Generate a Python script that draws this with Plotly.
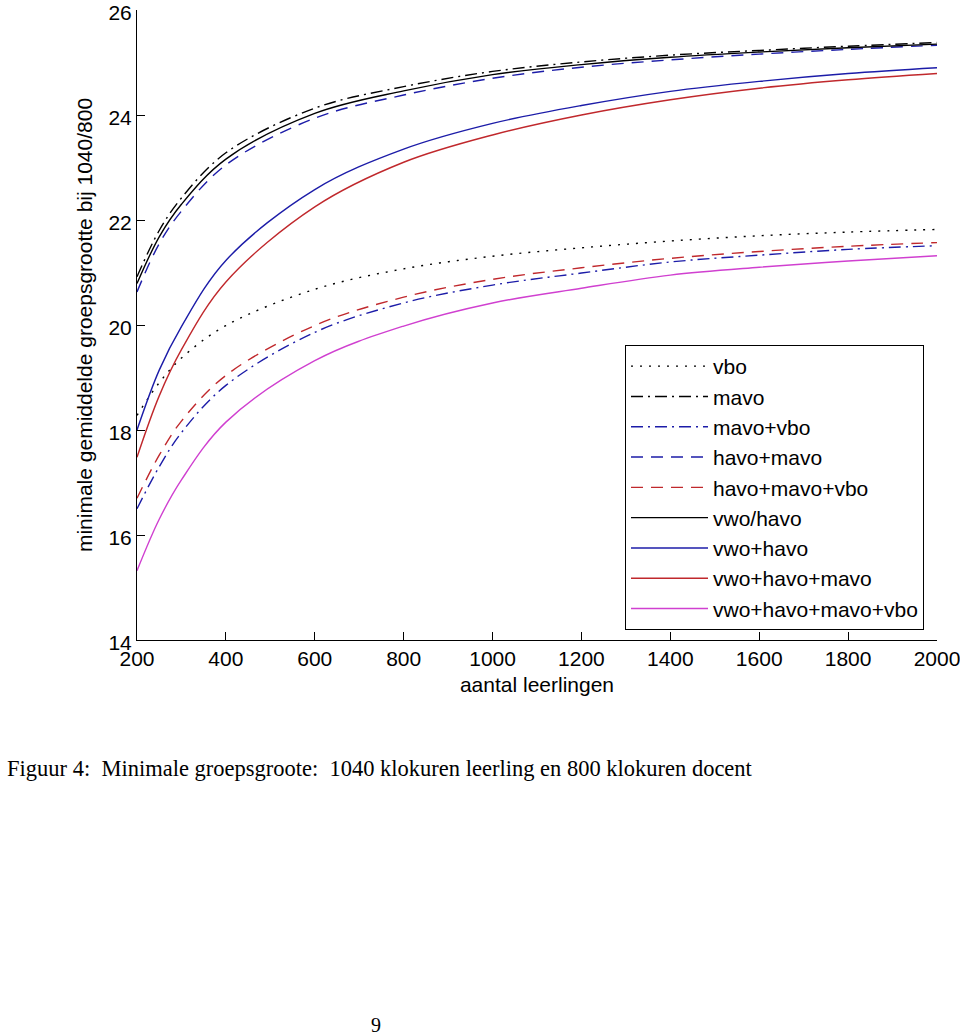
import plotly.graph_objects as go

# x-axis: aantal leerlingen
leerlingen = [200, 250, 300, 400, 600, 800, 1000, 1200, 1400, 1600, 1800, 2000]

# minimale gemiddelde groepsgrootte per schooltype
vbo = [18.28, 18.90, 19.37, 19.99, 20.68, 21.07, 21.31, 21.47, 21.60, 21.70, 21.77, 21.82]
mavo = [20.92, 21.80, 22.42, 23.28, 24.13, 24.54, 24.83, 25.01, 25.14, 25.23, 25.31, 25.38]
mavo_vbo = [16.50, 17.30, 17.95, 18.85, 19.86, 20.42, 20.76, 20.99, 21.20, 21.33, 21.44, 21.51]
havo_mavo = [20.63, 21.55, 22.17, 23.05, 23.94, 24.38, 24.70, 24.91, 25.05, 25.16, 25.25, 25.33]
havo_mavo_vbo = [16.70, 17.52, 18.17, 19.04, 19.99, 20.53, 20.87, 21.09, 21.27, 21.40, 21.50, 21.57]
vwo_havo = [20.79, 21.68, 22.30, 23.16, 24.03, 24.46, 24.77, 24.96, 25.10, 25.20, 25.28, 25.35]
vwo_plus_havo = [18.00, 19.14, 19.97, 21.23, 22.58, 23.35, 23.84, 24.18, 24.45, 24.64, 24.79, 24.90]
vwo_havo_mavo = [17.48, 18.65, 19.53, 20.82, 22.25, 23.10, 23.62, 24.00, 24.29, 24.51, 24.67, 24.79]
vwo_havo_mavo_vbo = [15.32, 16.30, 17.05, 18.15, 19.32, 19.98, 20.42, 20.70, 20.95, 21.10, 21.22, 21.32]

x_ticks = [200, 400, 600, 800, 1000, 1200, 1400, 1600, 1800, 2000]
y_ticks = [14, 16, 18, 20, 22, 24, 26]

BLACK = "#000000"
BLUE = "#1c1ca8"
RED = "#c0282c"
MAGENTA = "#d040d0"

DOT = "2px,7px"
DASH = "12px,8px"
DASHDOT = "12px,5px,2px,5px"

series = [
    ("vbo", vbo, BLACK, DOT),
    ("mavo", mavo, BLACK, DASHDOT),
    ("mavo+vbo", mavo_vbo, BLUE, DASHDOT),
    ("havo+mavo", havo_mavo, BLUE, DASH),
    ("havo+mavo+vbo", havo_mavo_vbo, RED, DASH),
    ("vwo/havo", vwo_havo, BLACK, "solid"),
    ("vwo+havo", vwo_plus_havo, BLUE, "solid"),
    ("vwo+havo+mavo", vwo_havo_mavo, RED, "solid"),
    ("vwo+havo+mavo+vbo", vwo_havo_mavo_vbo, MAGENTA, "solid"),
]

fig = go.Figure()
for name, ys, color, dash in series:
    fig.add_trace(go.Scatter(
        x=leerlingen, y=ys, name=name, mode="lines",
        line=dict(color=color, width=1.4, dash=dash, shape="spline", smoothing=1.0),
    ))

FONT = "Liberation Sans, Arial, Helvetica, sans-serif"
SERIF = "Liberation Serif, Times New Roman, serif"

PL, PT, PB = 137, 10, 640      # plot-area edges on the page
PW, PH = 800, 630              # plot-area size
W, H = 960, 1035

fig.update_layout(
    width=W, height=H,
    margin=dict(l=PL, r=W - PL - PW, t=PT, b=H - PT - PH, autoexpand=False),
    paper_bgcolor="white", plot_bgcolor="white",
    font=dict(family=FONT, size=21, color="black"),
    showlegend=True,
    legend=dict(
        x=(625 - PL) / PW, y=(PB - 630) / PH, xanchor="left", yanchor="bottom",
        bordercolor="black", borderwidth=1, bgcolor="white",
        font=dict(family=FONT, size=21, color="black"),
        itemwidth=77, tracegroupgap=0,
    ),
    xaxis=dict(
        range=[200, 2000], tickvals=x_ticks, ticktext=[str(v) for v in x_ticks],
        showline=True, linecolor="black", linewidth=1, mirror=False,
        ticks="inside", ticklen=8, tickcolor="black", showgrid=False, zeroline=False,
        ticklabeloverflow="allow", automargin=False,
        title=dict(text="aantal leerlingen", standoff=8, font=dict(size=21)),
        tickfont=dict(size=21),
    ),
    yaxis=dict(
        range=[14, 26], tickvals=y_ticks, ticktext=[str(v) for v in y_ticks],
        showline=True, linecolor="black", linewidth=1, mirror=False,
        ticks="inside", ticklen=8, tickcolor="black", showgrid=False, zeroline=False,
        ticklabeloverflow="allow", automargin=False, ticklabelshift=3,
        title=dict(text="minimale gemiddelde groepsgrootte bij 1040/800", standoff=10, font=dict(size=21)),
        tickfont=dict(size=21),
    ),
    annotations=[
        dict(text="Figuur 4:  Minimale groepsgroote:  1040 klokuren leerling en 800 klokuren docent",
             xref="paper", yref="paper", x=(5 - PL) / PW, y=(PB - 768) / PH,
             xanchor="left", yanchor="middle", showarrow=False,
             font=dict(family=SERIF, size=22.5, color="black")),
        dict(text="9", xref="paper", yref="paper", x=(376 - PL) / PW, y=(PB - 1025) / PH,
             xanchor="center", yanchor="middle", showarrow=False,
             font=dict(family=SERIF, size=20, color="black")),
    ],
)

# remove the browser's default 8px body margin so the figure sits at the page origin
fig.write_html("out.html", config={"displayModeBar": False},
               post_script="document.body.style.margin='0';")
